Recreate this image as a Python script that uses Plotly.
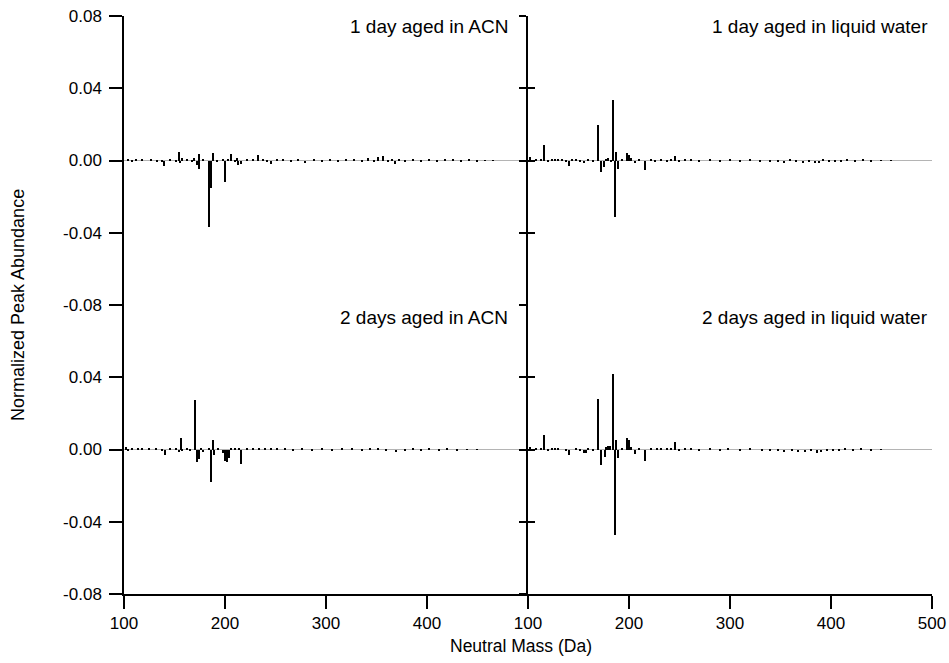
import plotly.graph_objects as go

# ---------------- data ----------------
# 1 day aged in ACN (top-left)
mass_acn_1d = [104, 108, 112, 118, 127, 133, 138, 140, 146, 152, 155, 156, 158, 163, 168, 170,
               172, 174, 174.6, 178, 184.5, 186, 188.5, 192, 198, 200, 203, 206.5, 210, 212, 213.2,
               216, 222, 228, 233, 238, 242, 246, 252, 258, 266, 272, 279, 288, 296, 304, 312,
               320, 328, 336, 342, 348, 352, 357, 362, 366, 369, 372, 378, 386, 394, 402, 410,
               418, 426, 434, 442, 450, 458, 466]
abund_acn_1d = [0.0004, -0.0003, 0.0006, 0.0003, 0.0004, -0.0003, -0.001, -0.0028, 0.0005, -0.0008,
                0.0045, -0.0015, 0.0012, 0.0005, -0.001, 0.0015, -0.0025, -0.0048, 0.0038, 0.0008,
                -0.0367, -0.015, 0.0042, -0.0008, 0.0005, -0.012, 0.0008, 0.0035, -0.0008, 0.0015,
                -0.0025, -0.0018, 0.0006, 0.0008, 0.003, 0.0005, -0.0006, -0.0022, 0.0005, 0.0008,
                -0.0004, 0.0004, -0.0012, 0.0004, -0.0004, 0.0003, -0.0004, 0.0005, 0.0004, -0.0006,
                0.0012, -0.0005, 0.0018, 0.0025, -0.0008, 0.0008, -0.0022, 0.001, -0.0007, 0.0008,
                -0.0005, 0.0004, -0.0004, 0.0003, 0.0004, -0.0003, 0.0003, -0.0003, 0.0002, 0.0002]

# 1 day aged in liquid water (top-right)
mass_h2o_1d = [102, 104, 108, 113.5, 116, 120, 124, 127, 130, 134, 138, 140.5, 144, 148, 152, 156,
               160, 165, 170, 172.3, 175, 177, 179, 182, 184, 186.5, 187.2, 189.5, 193, 198.3, 200,
               202, 206, 210, 216, 222, 226, 232, 238, 242, 246, 250, 256, 262, 270, 280, 290,
               300, 310, 320, 330, 340, 348, 354, 360, 366, 372, 378, 384, 388, 392, 398, 404,
               410, 416, 424, 432, 440, 450, 460]
abund_h2o_1d = [0.0018, -0.0008, 0.0005, 0.001, 0.0087, -0.0005, 0.0008, 0.0008, 0.0008, 0.0004,
                -0.0008, -0.003, 0.0004, 0.0005, -0.0006, -0.0012, 0.0004, -0.0005, 0.0194, -0.0063,
                -0.0035, 0.0008, 0.0012, -0.0008, 0.0337, -0.0313, 0.0048, -0.0045, 0.0006, 0.0041,
                0.003, 0.0015, -0.0015, 0.0005, -0.0054, 0.0005, -0.0004, 0.0008, -0.0005, 0.0004,
                0.0026, -0.0005, 0.0004, 0.0005, -0.0004, 0.0005, -0.0003, 0.0003, -0.0003, 0.0003,
                -0.0004, -0.0006, -0.0008, -0.0012, 0.0004, -0.001, -0.0014, -0.0008, -0.0015, -0.0012,
                0.0005, -0.0008, -0.0006, -0.0004, 0.0003, -0.0004, 0.0003, -0.0003, 0.0002, -0.0002]

# 2 days aged in ACN (bottom-left)
mass_acn_2d = [102, 104, 108, 114, 118, 125, 132, 138, 140.5, 146, 152, 154.8, 156.5, 158, 163, 166,
               170.6, 172, 174.3, 176, 178, 184, 186, 188.8, 189.6, 193, 198, 200, 202, 204, 206,
               210, 214, 216.5, 222, 228, 234, 240, 246, 252, 260, 268, 276, 286, 296, 306, 316,
               326, 336, 344, 352, 360, 370, 378, 386, 394, 402, 412, 420, 430, 440, 450]
abund_acn_2d = [0.0015, -0.0008, 0.0005, 0.001, 0.0004, 0.001, 0.0003, -0.001, -0.003, 0.0004,
                0.0005, -0.0012, 0.0065, -0.0008, 0.0005, -0.0006, 0.0274, -0.0069, -0.0055, 0.0008,
                -0.0015, 0.0006, -0.018, 0.0052, -0.003, 0.0006, -0.002, -0.0065, -0.0069, -0.0045,
                0.0008, 0.0005, 0.0006, -0.0078, 0.0004, 0.0005, 0.0006, 0.0004, 0.0005, 0.0006,
                0.0004, -0.0004, 0.0003, -0.0004, 0.0003, -0.0003, 0.0003, 0.0003, -0.0004, 0.0006,
                0.0004, -0.0005, -0.0012, -0.0006, 0.0004, -0.0005, 0.0003, -0.0004, 0.0003, -0.0003,
                0.0002, -0.0002]

# 2 days aged in liquid water (bottom-right)
mass_h2o_2d = [102, 104, 108, 113.5, 116, 120, 124, 127, 130, 138, 140.5, 148, 152, 156, 157.2, 160,
               165, 170, 172.3, 176, 177.5, 179, 181, 184, 186.5, 187.2, 189.5, 193, 198, 200, 202,
               206, 210, 216, 222, 228, 232, 238, 242, 246, 250, 256, 262, 270, 280, 290, 298,
               310, 320, 332, 340, 348, 354, 362, 368, 374, 380, 386, 390, 396, 402, 408, 414,
               422, 430, 440, 450]
abund_h2o_2d = [0.0015, -0.0008, 0.0006, 0.001, 0.0083, -0.0005, 0.0008, 0.0008, 0.0007, -0.0008,
                -0.0033, 0.0004, -0.0008, -0.0022, -0.0018, 0.0004, -0.0005, 0.0281, -0.0085, -0.004,
                0.0012, 0.002, 0.0018, 0.042, -0.0474, 0.005, -0.0045, 0.0005, 0.0065, 0.0055,
                0.0012, -0.0025, 0.0005, -0.0065, 0.0004, 0.0005, 0.001, 0.0006, 0.0004, 0.0044,
                -0.0004, 0.0004, 0.001, -0.0004, 0.0009, -0.0003, 0.0005, -0.0003, 0.0003, -0.0004,
                -0.0008, -0.001, -0.0015, -0.001, -0.0012, -0.0015, -0.0008, -0.0018, -0.0012, -0.001,
                -0.0008, -0.0006, 0.0003, -0.0004, 0.0003, -0.0003, 0.0002]

panel_labels = ["1 day aged in ACN", "1 day aged in liquid water",
                "2 days aged in ACN", "2 days aged in liquid water"]

y_ticks_top = [-0.08, -0.04, 0.0, 0.04, 0.08]
y_ticks_bottom = [-0.08, -0.04, 0.0, 0.04]
x_ticks_left = [100, 200, 300, 400]
x_ticks_right = [100, 200, 300, 400, 500]

# ---------------- layout geometry ----------------
W, H = 949, 663
FONT = "Liberation Sans, Arial, Helvetica, sans-serif"


def px_x(p):
    return p / W


def px_y(p):
    return 1 - p / H


X_L = [px_x(124), px_x(528)]
X_R = [px_x(528), px_x(932)]
Y_T = [px_y(305), px_y(16)]
Y_B = [px_y(594), px_y(305)]


def fmt(v):
    return f"{v:.2f}"


fig = go.Figure()

series = [
    (mass_acn_1d, abund_acn_1d, "x", "y"),
    (mass_h2o_1d, abund_h2o_1d, "x2", "y2"),
    (mass_acn_2d, abund_acn_2d, "x3", "y3"),
    (mass_h2o_2d, abund_h2o_2d, "x4", "y4"),
]
for m, a, xa, ya in series:
    fig.add_trace(go.Bar(x=m, y=a, xaxis=xa, yaxis=ya, width=1.4,
                         marker=dict(color="black", line=dict(width=0)),
                         showlegend=False, hoverinfo="x+y"))

# empty traces for overlay axes (inward ticks on the middle axis)
fig.add_trace(go.Scatter(x=[], y=[], xaxis="x2", yaxis="y5", showlegend=False))
fig.add_trace(go.Scatter(x=[], y=[], xaxis="x4", yaxis="y6", showlegend=False))

axis_common = dict(showgrid=False, linecolor="black", linewidth=1.5,
                   tickcolor="black", tickwidth=1.5, automargin=False,
                   tickfont=dict(family=FONT, size=17, color="black"))

yzero = dict(zeroline=True, zerolinecolor="#b4b4b4", zerolinewidth=1)

fig.update_layout(
    width=W, height=H,
    margin=dict(l=0, r=0, t=0, b=0, pad=0),
    paper_bgcolor="white", plot_bgcolor="white",
    barmode="overlay", bargap=0,
    font=dict(family=FONT, size=17, color="black"),
    xaxis=dict(domain=X_L, range=[100, 500], anchor="y", visible=False, automargin=False),
    xaxis2=dict(domain=X_R, range=[100, 500], anchor="y2", visible=False, automargin=False),
    xaxis3=dict(domain=X_L, range=[100, 500], anchor="y3", showline=True,
                ticks="outside", ticklen=13, tickvals=x_ticks_left, ticklabelstandoff=0,
                ticktext=[str(v) for v in x_ticks_left], zeroline=False, **axis_common),
    xaxis4=dict(domain=X_R, range=[100, 500], anchor="y4", showline=True,
                ticks="outside", ticklen=13, tickvals=x_ticks_right, ticklabelstandoff=0,
                ticktext=[str(v) for v in x_ticks_right], zeroline=False, **axis_common),
    yaxis=dict(domain=Y_T, range=[-0.08, 0.08], anchor="x", showline=True,
               ticks="outside", ticklen=13, tickvals=y_ticks_top,
               ticktext=[fmt(v) for v in y_ticks_top], ticklabelstandoff=4,
               **yzero, **axis_common),
    yaxis3=dict(domain=Y_B, range=[-0.08, 0.08], anchor="x3", showline=True,
                ticks="outside", ticklen=13, tickvals=y_ticks_bottom,
                ticktext=[fmt(v) for v in y_ticks_bottom], ticklabelstandoff=4,
                **yzero, **axis_common),
    yaxis2=dict(domain=Y_T, range=[-0.08, 0.08], anchor="x2", showline=True,
                ticks="outside", ticklen=7, tickvals=y_ticks_top,
                showticklabels=False, **yzero, **axis_common),
    yaxis4=dict(domain=Y_B, range=[-0.08, 0.08], anchor="x4", showline=True,
                ticks="outside", ticklen=7, tickvals=y_ticks_top,
                showticklabels=False, **yzero, **axis_common),
    yaxis5=dict(overlaying="y2", range=[-0.08, 0.08], anchor="x2", side="left",
                showline=False, ticks="inside", ticklen=7, tickvals=y_ticks_top,
                showticklabels=False, zeroline=False, **axis_common),
    yaxis6=dict(overlaying="y4", range=[-0.08, 0.08], anchor="x4", side="left",
                showline=False, ticks="inside", ticklen=7, tickvals=y_ticks_top,
                showticklabels=False, zeroline=False, **axis_common),
)

label_pos = [(510, 27), (930, 27), (510, 317), (930, 317)]
for text, (lx, ly) in zip(panel_labels, label_pos):
    fig.add_annotation(text=text, xref="paper", yref="paper", x=px_x(lx), y=px_y(ly),
                       xanchor="right", yanchor="middle", showarrow=False,
                       font=dict(family=FONT, size=19, color="black"))

fig.add_annotation(text="Normalized Peak Abundance", xref="paper", yref="paper",
                   x=px_x(18), y=px_y(305), textangle=-90, xanchor="center", yanchor="middle",
                   showarrow=False, font=dict(family=FONT, size=18, color="black"))
fig.add_annotation(text="Neutral Mass (Da)", xref="paper", yref="paper",
                   x=px_x(521), y=px_y(646), xanchor="center", yanchor="middle",
                   showarrow=False, font=dict(family=FONT, size=17.5, color="black"))

fig.write_html("out.html", config={"displayModeBar": False},
               post_script="document.body.style.margin='0px';document.body.style.padding='0px';"
                           "document.body.style.overflow='hidden';")
